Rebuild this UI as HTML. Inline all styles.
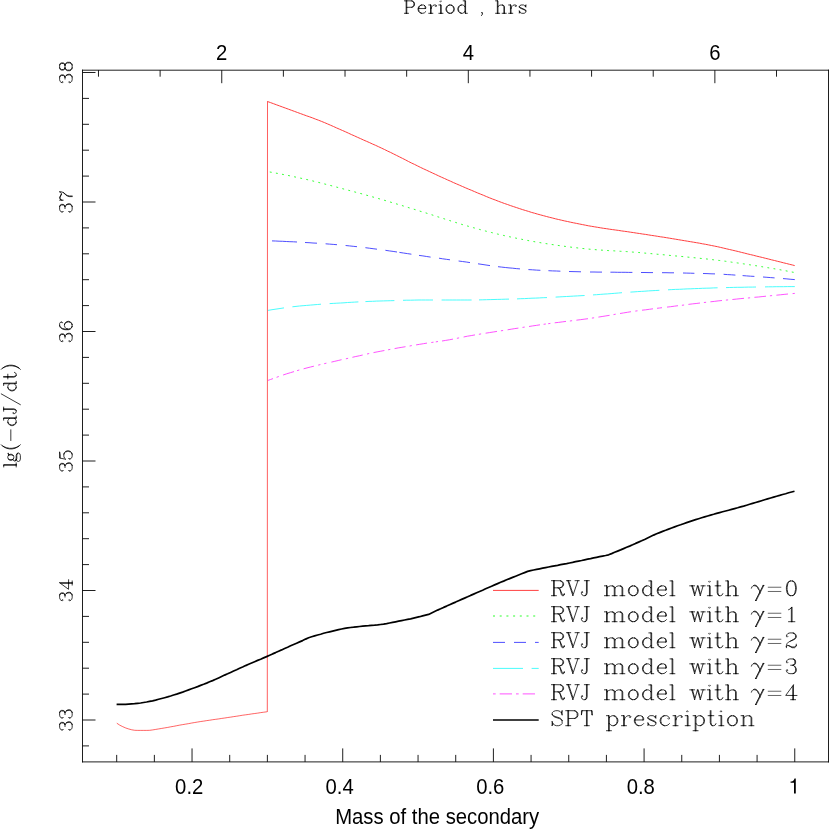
<!DOCTYPE html><html><head><meta charset="utf-8"><title>plot</title><style>html,body{margin:0;padding:0;background:#fff}svg{display:block}text{font-family:"Liberation Sans",sans-serif;fill:#000}</style></head><body>
<svg width="830" height="829" viewBox="0 0 830 829" style="will-change:transform">
<rect width="830" height="829" fill="#fff"/>
<defs><path id="g0" d="M8.7 -22.4L7 -20.1L5 -16L4 -11.1L4 -6.9L5 -1.9L7 1.9L8.6 4.3M11 7L8.8 4.6M8.7 -22.4L7 -18.9L6 -16.1L5 -11.1L5 -6.9L6 -2.1L7 1.1L8.6 4.2M8.8 -22.8L11 -25"/><path id="g1" d="M3 -25L5.2 -22.8M3 7L5.2 4.6M5.3 -22.4L7 -18.9L8 -16.1L9 -11.1L9 -6.9L8.1 -2.1L7 1.1L5.4 4.2M5.3 -22.4L7 -20.1L9 -16L10 -11.1L10 -6.9L9 -1.9L7 1.9L5.5 4.3"/><path id="g2" d="M4 4L5 3L6 1.1L6 -1L5 -2L4 -1L5 0"/><path id="g3" d="M22 -9L4 -9"/><path id="g4" d="M2 7L20 -25"/><path id="g5" d="M11.7 -0.3L12.9 -0.9L14.1 -2L15 -4L16 -8.9L16 -12.1L15 -17L14 -19L12.9 -20.1L11.7 -20.7M8.4 -0.2L6 -1L4 -3.9L3 -8.9L3 -12.1L4 -17L6 -20L8.4 -20.8M8.8 -20.9L11.4 -20.9M8.5 -0.2L7 -1L6 -2L5 -4L4 -8.9L4 -12.1L5 -17L6 -19L7 -20L8.5 -20.8M11.7 -0.2L14 -1L15.9 -3.9L17 -8.9L17 -12.1L16 -17L14 -20L11.7 -20.8M11.4 -0.1L8.8 -0.1"/><path id="g6" d="M11.1 0L15 0M9.9 -19.9L8 -17.9L6 -17M10.1 0L10.9 0M11 -0.1L11 -20.9L10 -20M10 -19.9L10 -0.1M6 0L9.9 0"/><path id="g7" d="M3 0L3 -2M3 -2.1L3 -3L4 -6L6 -8L8.7 -9.3M16.9 -2.9L15.9 -1.9L14.1 -1L10.9 -1L6.5 -2.8M3 -2L4 -3L6.2 -2.9M6.5 -2.8L11 0L15 0L16.1 -1.1L16.9 -2.8M16.9 -3L17 -5M9.2 -9.6L14.9 -12.9L16 -14.9L16 -17L15 -19L13.9 -20.1L12.7 -20.7M9.2 -9.5L13.1 -11.1L15.9 -12.9L17 -14.9L17 -17L16 -19L15 -20L12.7 -20.8M12.4 -20.9L8 -21L5.1 -20.1L4 -19L3 -17L3 -16L4 -15L5 -16L4 -17"/><path id="g8" d="M12.7 -0.3L13.9 -0.9L15.1 -2L16 -4L16 -7L15.1 -9.8M15.1 -9.9L13.9 -11.1L12.1 -12M12.7 -12.3L14.1 -13.1L15 -14.9L15 -18L14 -20L12.7 -20.7M15.1 -9.9L16 -9L17 -7L17 -4L16.1 -2L15 -1L12.7 -0.2M12.4 -0.1L8 0L5.1 -0.9L4 -2L3 -4L3 -5L4 -6L5 -5L4 -4M12.4 -12.2L12.1 -12M9 -12L12.1 -12M12.7 -12.2L15 -13L16 -14.9L16 -18L15.1 -19.9L12.7 -20.8M12.4 -20.9L8 -21L5.1 -20.1L4 -19L3 -17L3 -16L4 -15L5 -16L4 -17"/><path id="g9" d="M12 -6L12 -19M12 -6L12 -0.1M13.1 0L16 0M12.1 -6L12.9 -6M18 -6L13.1 -6M11.9 0L9 0M13 -6L13 -20.9M13 -6L13 -0.1M12.9 -20.9L2 -6.1L11.9 -6M12.1 0L12.9 0"/><path id="g10" d="M11.7 -0.3L12.9 -0.9L15 -3L16 -6L16 -8.1L15 -11L12.9 -13.1L11.7 -13.7M3 -11.2L5 -21L14.6 -21M14.7 -20.9L10.1 -20L5 -20M3.1 -11.1L5 -13L8 -14L11.4 -13.8M11.7 -0.2L14 -1L16 -3L17 -6L17 -8.1L16 -11L14 -13L11.7 -13.8M11.4 -0.1L8 0L5 -1L4 -2L3 -4L3 -5L4 -6L5 -5L4 -4"/><path id="g11" d="M11.7 -0.3L12.9 -0.9L15 -3L16 -6L16 -7L15 -10L12.9 -12.1L11.7 -12.7M8.4 -0.2L6 -1L4 -3.1L3 -6L3 -12.1L4 -16L5 -18L7 -20L9.4 -20.8M8.5 -0.2L7 -1L5 -3L4 -6L4 -7.2M11.7 -0.2L14 -1L16 -3L17 -6L17 -7L16 -10L14 -12L11.7 -12.8M11.4 -0.1L8.8 -0.1M4 -7.2L4 -12.1L5 -16L6 -18L8 -20L9.5 -20.8M9.8 -20.9L13.1 -21L14.9 -20.1L16 -18L16 -17L15 -16L14 -17L15 -18M4 -7.2L5 -10L7 -12L9.9 -13L11.4 -12.8"/><path id="g12" d="M3 -17.1L3 -15M3 -17.1L4 -19.1M12.5 -18.2L8.1 -20L6 -20L4.2 -19.1M16.9 -20.9L16.1 -19.1L15 -18L12.8 -18.1M10 0L10 -5L10.9 -7.9L12.1 -10.2L15.5 -14.4M17 -20.8L17 -17.9L15.7 -14.7M12.6 -18.2L8 -21L6 -21L4.2 -19.1M9 0L9 -5L9.9 -7.9L11 -10L15.4 -14.4M3 -21L3 -17.1"/><path id="g13" d="M7.5 -11.8L5 -11L4 -10L3 -8L3 -4L4 -2L5 -1L7.5 -0.2M12.4 -11.8L12.1 -12M12.4 -0.1L7.8 -0.1M12.4 -12.2L12.1 -12M7.5 -12.2L5 -13L4 -14.9L4 -18L5 -19.9L7.5 -20.8M12.7 -11.7L13.9 -11.1L15 -10L16 -8L16 -4L15.1 -2L13.9 -0.9L12.7 -0.3M7.5 -11.8L6 -11L5 -10L4 -8L4 -4L5 -2L6 -1L7.5 -0.2M12.7 -0.2L15 -1L16.1 -2L17 -4L17 -8L16 -10L15 -11L12.7 -11.8M7.5 -12.2L6 -13.1L5 -14.9L5 -18L6 -19.9L7.5 -20.8M12.4 -20.9L7.8 -20.9M12.7 -12.3L14.1 -13.1L15 -14.9L15 -18L14 -20L12.7 -20.7M8 -12L12.1 -12M12.7 -12.2L15 -13L16 -14.9L16 -18L15.1 -19.9L12.7 -20.8"/><path id="g14" d="M22 -6L4 -6M22 -12L4 -12"/><path id="g15" d="M13 -21L10.1 -21M9.9 -21L9.1 -21M3 -4L4 -5L3 -6L2 -5L2 -3L3 -1L5 0L7 -0.1M10 -20.9L10 -4L9 -1L7.2 -0.1M8.9 -21L6 -21M7.2 -0.1L8.1 -1.1L9 -4L9 -20.9"/><path id="g16" d="M6 0L9 0M5 -21L2 -21M5 0L2 0M14.7 -10.3L15.9 -10.9L17.1 -12.1L18 -13.9L18 -17L17 -19L15.9 -20.1L14.7 -20.7M5 -21L6 -21M5 -0.1L5 -20.9M14.7 -10.2L17 -11L18.1 -12.1L19 -13.9L19 -17L18 -19L17 -20L14.7 -20.8M14.4 -10.2L6 -10M5 0L6 0M6 -10.1L6 -20.9M14.4 -20.9L6 -21M6 -9.9L6 -0.1"/><path id="g17" d="M13.2 -9.8L14.2 -8.7L17 -2L18 -1L19 -1L19.9 -1.9M6 0L9 0M6 -11L11.1 -11M5 -21L2 -21M11.2 -10.9L13.1 -9.9M5 0L2 0M14.7 -11.3L15.9 -11.9L17.1 -13.1L18 -14.9L18 -17L17 -19L15.9 -20.1L14.7 -20.7M11.2 -11L14.4 -11.2M5 -21L6 -21M5 -0.1L5 -20.9M14.7 -11.2L17 -12L18.1 -13.1L19 -14.9L19 -17L18 -19L17 -20L14.7 -20.8M5 0L6 0M19.9 -1.9L20 -3M19.9 -1.8L19 0L17 0L16 -1L14.1 -7.9L13.1 -9.8M6 -11.1L6 -20.9M14.4 -20.9L6 -21M6 -10.9L6 -0.1"/><path id="g18" d="M16.9 -7.2L16 -9L14.9 -10.1L13.1 -11L7.1 -12.9L5 -14L3.1 -15.8M16.8 -7.2L14.9 -9.1L13.1 -10L7.1 -11.9L5 -13L4 -14.1L3.1 -15.8M15.9 -18.1L13.9 -20.1L11.1 -21L8 -21L5 -20L3 -18L3 -15.9M4 -3L3 -0.2M3 -5.8L3 -0.2M16 -18L16.9 -15.2M16.9 -7.1L17 -3L15 -1L12.1 0L8.9 0L6.1 -0.9L4 -3M3 -5.8L4 -3M16.9 -20.8L16 -18.1M16.9 -20.8L16.9 -15.2"/><path id="g19" d="M8.9 0L6 0M9.1 -21L9.9 -21M9 -20.9L9 -0.1M3 -21L2 -20.9L2 -15.4M2 -15.4L3 -20.9M16.1 -21L17 -20.9L16.9 -15.4M16 -20.9L16.9 -15.4M9.1 0L9.9 0M13 0L10.1 0M3 -21L8.9 -21M17 -15L16.9 -15.4M10 -20.9L10 -0.1M10.1 -21L15.9 -21"/><path id="g20" d="M3 -21L1 -21M13 -21L16.9 -21M10 -3L4 -20.9M3 -20.9L10 -0.1M3 -21L4 -21M7 -21L4 -21M10 -0.1L17 -20.9M17.1 -21L19 -21"/><path id="g21" d="M16 -3L13.9 -0.9L11.1 0L8.8 -0.1M8.4 -0.2L6 -1L4 -3L3 -6L3 -8.1L4 -11L6 -13L8.4 -13.8M8.5 -0.2L7 -1L5 -3L4 -6L4 -8.1L5 -11L7 -13L8.5 -13.8M15 -11L14 -10L15 -9L16 -10L16 -11L13.9 -13.1L12.1 -14L8.8 -13.9"/><path id="g22" d="M14.9 -11.1L12.9 -13.1L11.1 -14L8.8 -13.9M8.4 -0.2L6 -1L4 -3L3 -6L3 -8.1L4 -11L6 -13L8.4 -13.8M15 -11.1L15 -20.9M15.9 0L15 -0.1L15 -2.9M19 0L16.1 0M8.5 -0.2L7 -1L5 -3L4 -6L4 -8.1L5 -11L7 -13L8.5 -13.8M8.8 -0.1L11.1 0L12.9 -0.9L14.9 -3M16 -0.1L16 -20.9L15.1 -21M15 -11L15 -3M14.9 -21L12 -21"/><path id="g23" d="M16 -3L13.9 -0.9L11.1 0L8.8 -0.1M8.4 -0.2L6 -1L4 -3L3 -6L3 -8.1L4 -11L6 -13L8.4 -13.8M14.1 -12.9L12.1 -14L8.8 -13.9M8.5 -0.2L7 -1L5 -3L4 -6L4 -8M14.9 -8L4 -8M15 -8.1L15 -11L14.1 -12.8M4 -8.1L5 -11L7 -13L8.5 -13.8M14.2 -12.8L15 -12L16 -10L16 -8.1L15.1 -8"/><path id="g24" d="M15.9 2.9L16 4L14.9 6L12.1 7L6 7L3 6L2 4L2 3L3 1.1L4.9 0.3M12.1 -5.2L10.1 -4L8 -4L5.9 -5.1M5.8 -12.8L5 -12L4 -10L4 -8L5 -6M5.1 0.3L6 0M5.1 0.3L7 1L12.1 1L14.9 1.9L15.8 2.8M12.1 -12.9L10.1 -14L8 -14L6 -12.9M5 -6L4 -5L3 -3L3 -1.9M5 -6L5.8 -5.2M5.9 -12.8L5 -11L5 -7L5.8 -5.2M14.1 -13L13 -12M13 -12L12.2 -12.8M13 -12L14 -10L14 -8L13.1 -6L12.2 -5.2M4.9 0.3L4 -0.1L3.1 -1.8M14.2 -13.1L15.9 -13.9L15.9 -13L14.2 -13M12.2 -5.2L13 -7L13 -11L12.1 -12.8M15.8 2.8L14.9 0.9L12.1 0L7 0L4.1 -0.9L3.1 -1.9"/><path id="g25" d="M6 0L9 0M5 -21L2 -21M6 -11.1L6 -20.9L5 -21M15.9 0L13 0M5 0L2 0M16 -0.1L16 -11L15 -13L13.7 -13.7M6 -11L6 -0.1M6 -11.1L8.1 -13.1L10.9 -14L13.4 -13.8M5 -0.1L5 -20.9M16.1 0L16.9 0M20 0L17.1 0M5 0L6 0M17 -0.1L17 -11L15.9 -13.1L13.7 -13.8"/><path id="g26" d="M6 0L9 0M2 0L5 0M5 -14L2 -14M5 0L6 0M6 -0.1L6 -13.9L5 -14M5 -0.1L5 -13.9M5.3 -20.7L5 -21L4 -20L5 -19L6 -20"/><path id="g27" d="M6 0L9 0M5 -21L2 -21M6 0L5 0M2 0L5 0M6 -0.1L6 -20.9L5 -21M5 -20.9L5 -0.1"/><path id="g28" d="M6 0L9 0M26.9 0L24 0M15.9 0L13 0M27 -0.1L27 -11L26 -13L24.6 -13.7M6 -11.1L6 -13.9L5 -14M17 -11L15.9 -13.1L13.7 -13.8M17 -11L19.1 -13.1L21.9 -14L24.4 -13.8M17 -11L17 -0.1M5 0L2 0M16 -0.1L16 -11L15 -13L13.7 -13.7M6 -11L6 -0.1M5 -14L2 -14M6 -11.1L8.1 -13.1L10.9 -14L13.4 -13.8M27.1 0L27.9 0M5 -0.1L5 -13.9M31 0L28.1 0M16.1 0L16.9 0M20 0L17.1 0M5 0L6 0M28 -0.1L28 -11L26.9 -13.1L24.7 -13.8"/><path id="g29" d="M6 0L9 0M6 -11.1L6 -13.9L5 -14M15.9 0L13 0M5 0L2 0M16 -0.1L16 -11L15 -13L13.7 -13.7M6 -11L6 -0.1M5 -14L2 -14M6 -11.1L8.1 -13.1L10.9 -14L13.4 -13.8M5 -0.1L5 -13.9M16.1 0L16.9 0M20 0L17.1 0M5 0L6 0M17 -0.1L17 -11L15.9 -13.1L13.7 -13.8"/><path id="g30" d="M11.7 -0.3L12.9 -0.9L15 -3L16 -6L16 -8.1L15 -11L12.9 -13.1L11.7 -13.7M8.4 -0.2L6 -1L4 -3L3 -6L3 -8.1L4 -11L6 -13L8.4 -13.8M8.5 -0.2L7 -1L5 -3L4 -6L4 -8.1L5 -11L7 -13L8.5 -13.8M11.7 -0.2L14 -1L16 -3L17 -6L17 -8.1L16 -11L14 -13L11.7 -13.8M8.8 -0.1L11.4 -0.1M8.8 -13.9L11.4 -13.8"/><path id="g31" d="M2 7L5 7M5 7L6 7M6 7L6 -2.9M9 7L6 7M6 -11.1L6 -13.9L5 -14M12.7 -13.7L13.9 -13.1L16 -11L17 -8.1L17 -6L16 -3L13.9 -0.9L12.7 -0.3M6 -11L6 -3M5 -14L2 -14M6 -11.1L8 -13L10 -14L12.4 -13.8M12.7 -13.8L15 -13L17 -11L18 -8.1L18 -6L17 -3L15 -1L12.7 -0.2M12.4 -0.1L10 0L8 -1L6 -3M5 7L5 -13.9"/><path id="g32" d="M6 0L9 0M14 -13L13 -12L14 -11L15 -12L15 -13L14 -14L11 -14L9 -13L7 -11L6 -8.2M5 0L2 0M5 -14L2 -14M6 -8.2L6 -13.9L5 -14M6 -8.2L6 -0.1M5 -0.1L5 -13.9M5 0L6 0"/><path id="g33" d="M3 -11L3 -12L4 -13L6 -14L10.1 -14L11.9 -13.1L13 -12M3 -10.9L3 -10L4 -9L12.9 -5L13.9 -4M14 -4.1L14 -5L12.9 -6L4 -10L3 -10.9M14 -4L14 -2L12.9 -0.9L11.1 0L7 0L5 -1L4 -1.9M13.9 -13.8L13 -12M4 -1.9L3 -0.1L3 -3.8M14 -13.8L14 -10.2L13 -12M4 -2L3 -3.9"/><path id="g34" d="M6 -14.1L6 -21M6 -14L10 -14M6 -13.9L6 -4L7 -1.1L7.8 -0.2M7.8 -0.1L6 -1.1L5 -4L5 -13.9M5 -14L2 -14M5 -14.1L5 -21M5 -14L6 -14M13 -3L11.9 -0.9L10.1 0L7.9 -0.1"/><path id="g35" d="M23 -14L20.1 -14M19.9 -14L17 -14M16 -3L13 -14M4 -13.9L8 -0.1M4 -14L5 -14M1 -14L4 -14M16 -0.1L12 -13.9M16 -0.1L20 -13.9M8 -14L5 -14M8 -3L5 -13.9M8 -0.1L12 -13.9"/><path id="g37" d="M1 -10.6L1.8 -12.6L3.4 -14.2L5.6 -15L7.6 -14.6L9.6 -13L11.2 -10.4L12.6 -6.6L13.2 -3.4M4.4 -14L6 -14.2L7.6 -13.6L9.6 -11.6L11 -9M17.6 -14.6L6.8 6.8M18.6 -14.6L7.8 6.8M17.6 -14.6L18.6 -14.6M6.8 6.8L7.8 6.8"/></defs>
<g stroke="#000" stroke-width="0.88" fill="none">
<path d="M82.5 69.7V762.4M828.5 69.7V762.4M82.0 70.2H829.0M82.0 761.9H829.0"/>
<path d="M98.47 70.2v6.5M160.11 70.2v6.5M221.75 70.2v13M283.39 70.2v6.5M345.03 70.2v6.5M406.67 70.2v6.5M468.31 70.2v13M529.95 70.2v6.5M591.59 70.2v6.5M653.23 70.2v6.5M714.87 70.2v13M776.51 70.2v6.5M116.70 761.9v-7M154.37 761.9v-7M192.04 761.9v-13.5M229.71 761.9v-7M267.38 761.9v-7M305.05 761.9v-7M342.72 761.9v-13.5M380.39 761.9v-7M418.06 761.9v-7M455.73 761.9v-7M493.40 761.9v-13.5M531.07 761.9v-7M568.74 761.9v-7M606.41 761.9v-7M644.08 761.9v-13.5M681.75 761.9v-7M719.42 761.9v-7M757.09 761.9v-7M794.76 761.9v-13.5M82.5 72.50h13M82.5 98.40h6.5M82.5 124.30h6.5M82.5 150.20h6.5M82.5 176.10h6.5M82.5 202.00h13M82.5 227.90h6.5M82.5 253.80h6.5M82.5 279.70h6.5M82.5 305.60h6.5M82.5 331.50h13M82.5 357.40h6.5M82.5 383.30h6.5M82.5 409.20h6.5M82.5 435.10h6.5M82.5 461.00h13M82.5 486.90h6.5M82.5 512.80h6.5M82.5 538.70h6.5M82.5 564.60h6.5M82.5 590.50h13M82.5 616.40h6.5M82.5 642.30h6.5M82.5 668.20h6.5M82.5 694.10h6.5M82.5 720.00h13M82.5 745.90h6.5"/>
</g>
<g fill="none" stroke-linejoin="round">
<path d="M116.8 723.2L119.8 725.2L122.8 726.7L125.8 728.0L128.8 729.0L131.8 729.8L134.8 730.3L137.8 730.4L140.8 730.4L143.8 730.4L146.8 730.4L149.8 730.3L152.8 729.9L155.8 729.4L158.8 728.9L161.8 728.4L164.8 727.9L167.8 727.4L170.8 726.8L173.8 726.3L176.8 725.7L179.8 725.1L182.8 724.6L185.8 724.1L188.8 723.6L191.8 723.0L194.8 722.5L197.8 722.0L200.8 721.5L203.8 721.1L206.8 720.6L209.8 720.2L212.8 719.7L215.8 719.3L218.8 718.9L221.8 718.4L224.8 718.0L227.8 717.5L230.8 717.1L233.8 716.6L236.8 716.2L239.8 715.7L242.8 715.2L245.8 714.8L248.8 714.4L251.8 713.9L254.8 713.5L257.8 713.1L260.8 712.6L263.8 712.2L266.8 711.8L267.3 711.7" stroke="#ff2a2a" stroke-width="0.72"/>
<path d="M267.3 711.9L267.5 101.3" stroke="#ff2a2a" stroke-width="0.75"/>
<path d="M267.5 101.5L270.5 102.6L273.5 103.7L276.5 104.8L279.5 105.9L282.5 107.0L285.5 108.1L288.5 109.2L291.5 110.3L294.5 111.4L297.5 112.5L300.5 113.6L303.5 114.7L306.5 115.8L309.5 116.8L312.5 117.9L315.5 119.1L318.5 120.2L321.5 121.4L324.5 122.6L327.5 123.9L330.5 125.2L333.5 126.5L336.5 127.9L339.5 129.2L342.5 130.5L345.5 131.8L348.5 133.2L351.5 134.6L354.5 135.9L357.5 137.3L360.5 138.6L363.5 140.0L366.5 141.3L369.5 142.6L372.5 144.0L375.5 145.3L378.5 146.7L381.5 148.1L384.5 149.5L387.5 151.0L390.5 152.4L393.5 153.9L396.5 155.4L399.5 156.9L402.5 158.4L405.5 159.9L408.5 161.5L411.5 163.0L414.5 164.4L417.5 165.9L420.5 167.4L423.5 168.8L426.5 170.2L429.5 171.6L432.5 173.0L435.5 174.4L438.5 175.8L441.5 177.2L444.5 178.5L447.5 179.9L450.5 181.2L453.5 182.6L456.5 183.9L459.5 185.2L462.5 186.5L465.5 187.8L468.5 189.1L471.5 190.3L474.5 191.6L477.5 192.9L480.5 194.1L483.5 195.3L486.5 196.6L489.5 197.8L492.5 199.0L495.5 200.1L498.5 201.3L501.5 202.4L504.5 203.5L507.5 204.5L510.5 205.6L513.5 206.6L516.5 207.6L519.5 208.6L522.5 209.6L525.5 210.5L528.5 211.4L531.5 212.4L534.5 213.2L537.5 214.1L540.5 214.9L543.5 215.7L546.5 216.5L549.5 217.3L552.5 218.0L555.5 218.8L558.5 219.5L561.5 220.2L564.5 220.9L567.5 221.5L570.5 222.2L573.5 222.8L576.5 223.4L579.5 224.0L582.5 224.6L585.5 225.2L588.5 225.8L591.5 226.3L594.5 226.8L597.5 227.3L600.5 227.8L603.5 228.3L606.5 228.7L609.5 229.2L612.5 229.6L615.5 230.0L618.5 230.4L621.5 230.9L624.5 231.3L627.5 231.7L630.5 232.2L633.5 232.6L636.5 233.1L639.5 233.5L642.5 234.0L645.5 234.4L648.5 234.9L651.5 235.4L654.5 235.8L657.5 236.3L660.5 236.8L663.5 237.2L666.5 237.7L669.5 238.2L672.5 238.7L675.5 239.2L678.5 239.7L681.5 240.2L684.5 240.7L687.5 241.2L690.5 241.7L693.5 242.2L696.5 242.7L699.5 243.2L702.5 243.8L705.5 244.3L708.5 244.9L711.5 245.5L714.5 246.1L717.5 246.7L720.5 247.4L723.5 248.1L726.5 248.8L729.5 249.5L732.5 250.2L735.5 250.9L738.5 251.6L741.5 252.4L744.5 253.1L747.5 253.9L750.5 254.6L753.5 255.3L756.5 256.1L759.5 256.8L762.5 257.5L765.5 258.3L768.5 259.0L771.5 259.8L774.5 260.5L777.5 261.3L780.5 262.0L783.5 262.8L786.5 263.5L789.5 264.3L792.5 265.0L794.7 265.6" stroke="#ff2a2a" stroke-width="0.9"/>
<path d="M269.8 172.0L272.8 172.5L275.8 173.1L278.8 173.6L281.8 174.2L284.8 174.8L287.8 175.4L290.8 176.0L293.8 176.7L296.8 177.3L299.8 178.0L302.8 178.6L305.8 179.3L308.8 180.0L311.8 180.7L314.8 181.5L317.8 182.2L320.8 183.0L323.8 183.8L326.8 184.5L329.8 185.3L332.8 186.1L335.8 186.9L338.8 187.7L341.8 188.5L344.8 189.3L347.8 190.1L350.8 190.9L353.8 191.7L356.8 192.5L359.8 193.3L362.8 194.1L365.8 195.0L368.8 195.8L371.8 196.7L374.8 197.5L377.8 198.4L380.8 199.2L383.8 200.1L386.8 201.0L389.8 201.9L392.8 202.8L395.8 203.7L398.8 204.6L401.8 205.5L404.8 206.4L407.8 207.4L410.8 208.3L413.8 209.2L416.8 210.1L419.8 211.1L422.8 212.0L425.8 212.9L428.8 213.9L431.8 214.8L434.8 215.8L437.8 216.8L440.8 217.7L443.8 218.7L446.8 219.7L449.8 220.6L452.8 221.6L455.8 222.5L458.8 223.5L461.8 224.4L464.8 225.3L467.8 226.1L470.8 227.0L473.8 227.8L476.8 228.6L479.8 229.5L482.8 230.3L485.8 231.1L488.8 231.9L491.8 232.6L494.8 233.4L497.8 234.1L500.8 234.8L503.8 235.5L506.8 236.2L509.8 236.8L512.8 237.5L515.8 238.1L518.8 238.7L521.8 239.3L524.8 239.9L527.8 240.5L530.8 241.0L533.8 241.6L536.8 242.1L539.8 242.6L542.8 243.1L545.8 243.6L548.8 244.0L551.8 244.5L554.8 244.9L557.8 245.4L560.8 245.8L563.8 246.2L566.8 246.6L569.8 247.0L572.8 247.4L575.8 247.7L578.8 248.1L581.8 248.4L584.8 248.7L587.8 249.0L590.8 249.3L593.8 249.5L596.8 249.8L599.8 250.0L602.8 250.2L605.8 250.4L608.8 250.6L611.8 250.7L614.8 250.9L617.8 251.1L620.8 251.3L623.8 251.4L626.8 251.6L629.8 251.8L632.8 252.1L635.8 252.3L638.8 252.5L641.8 252.8L644.8 253.1L647.8 253.3L650.8 253.6L653.8 253.9L656.8 254.2L659.8 254.4L662.8 254.7L665.8 255.0L668.8 255.3L671.8 255.6L674.8 255.9L677.8 256.1L680.8 256.4L683.8 256.7L686.8 257.0L689.8 257.3L692.8 257.6L695.8 257.9L698.8 258.2L701.8 258.5L704.8 258.8L707.8 259.1L710.8 259.5L713.8 259.8L716.8 260.2L719.8 260.5L722.8 260.9L725.8 261.3L728.8 261.7L731.8 262.2L734.8 262.6L737.8 263.0L740.8 263.4L743.8 263.9L746.8 264.3L749.8 264.8L752.8 265.3L755.8 265.7L758.8 266.2L761.8 266.7L764.8 267.2L767.8 267.7L770.8 268.2L773.8 268.7L776.8 269.2L779.8 269.7L782.8 270.3L785.8 270.8L788.8 271.4L791.8 272.0L794.7 272.5" stroke="#2cff2c" stroke-width="0.95" stroke-dasharray="1.9 4.3"/>
<path d="M272.0 240.9L275.6 241.0L279.1 241.2L282.7 241.3L286.3 241.5L289.9 241.7L293.4 241.8L297.0 242.0M305.0 242.5L309.0 242.7L313.0 243.0L317.0 243.2M325.6 243.8L329.4 244.1L333.2 244.4L337.0 244.7M345.6 245.5L349.4 245.9L353.2 246.3L357.0 246.7M365.4 247.7L369.3 248.2L373.1 248.7L377.0 249.2M385.4 250.3L389.3 250.9L393.1 251.4L397.0 252.0M399.4 252.4L403.4 253.0L407.4 253.6L411.4 254.2M419.0 255.4L422.9 255.9L426.7 256.5L430.6 257.1M439.0 258.2L442.7 258.8L446.3 259.3L450.0 259.8M458.6 261.0L462.4 261.5L466.2 262.0L470.0 262.6M478.0 263.8L482.0 264.4L486.0 265.0L490.0 265.6M498.0 266.7L501.7 267.1L505.3 267.5L509.0 267.9L512.7 268.2L516.3 268.6L520.0 268.9M528.4 269.6L532.4 269.8L536.4 270.1L540.4 270.3M548.4 270.7L552.4 270.9L556.4 271.0L560.4 271.2M569.0 271.5L573.0 271.6L577.0 271.7L581.0 271.8M590.0 272.0L594.0 272.0L598.0 272.1L602.0 272.1M610.4 272.2L614.1 272.2L617.7 272.3L621.4 272.3L625.1 272.3L628.7 272.4L632.4 272.4M641.0 272.5L645.0 272.5L649.0 272.6L653.0 272.6M662.0 272.7L666.0 272.7L670.0 272.8L674.0 272.8M683.0 273.0L686.8 273.1L690.6 273.2L694.4 273.3M703.0 273.5L707.0 273.6L711.0 273.8L715.0 273.9M723.6 274.3L727.5 274.6L731.5 274.8L735.4 275.1M742.6 275.6L746.5 275.9L750.5 276.2L754.4 276.4M763.0 277.0L766.9 277.3L770.7 277.6L774.6 277.9M783.0 278.6L786.9 278.9L790.9 279.3L794.8 279.6" stroke="#3a3aff" stroke-width="0.9"/>
<path d="M268.0 310.4L272.0 309.7L276.0 309.1L280.0 308.5L284.0 307.9M292.4 306.8L296.0 306.4L299.5 306.0L303.1 305.7L306.7 305.4L310.3 305.1L313.9 304.8L317.4 304.5L321.0 304.2M329.6 303.6L333.2 303.4L336.8 303.2L340.4 303.0L344.0 302.8L347.6 302.5L351.2 302.3L354.8 302.1L358.4 301.9M365.4 301.6L369.0 301.4L372.6 301.3L376.3 301.1L379.9 301.0L383.5 300.9L387.1 300.8L390.8 300.7L394.4 300.6M403.0 300.3L406.8 300.2L410.5 300.2L414.2 300.1L418.0 300.0L421.8 300.0L425.5 300.0L429.2 300.0L433.0 300.0M441.6 300.0L445.4 300.0L449.1 300.0L452.9 300.0L456.6 300.0L460.4 300.0L464.1 300.0L467.9 300.0L471.6 300.0M479.0 299.9L482.8 299.8L486.5 299.7L490.2 299.6L494.0 299.5L497.8 299.4L501.5 299.3L505.2 299.2L509.0 299.1M517.0 298.9L520.8 298.7L524.5 298.6L528.2 298.4L532.0 298.2L535.8 298.1L539.5 297.9L543.2 297.7L547.0 297.6M555.6 297.1L559.2 296.9L562.9 296.7L566.5 296.5L570.1 296.3L573.7 296.1L577.4 295.9L581.0 295.7L584.6 295.5M593.0 294.9L596.6 294.7L600.2 294.4L603.9 294.1L607.5 293.9L611.1 293.6L614.8 293.3L618.4 293.0L622.0 292.7M630.4 292.1L634.0 291.9L637.6 291.6L641.3 291.4L644.9 291.2L648.5 290.9L652.1 290.7L655.8 290.5L659.4 290.3M668.0 289.8L671.8 289.6L675.6 289.4L679.4 289.3L683.3 289.1L687.1 288.9L690.9 288.8L694.7 288.6L698.5 288.5L702.3 288.3L706.2 288.2L710.0 288.1L713.8 287.9L717.6 287.8M726.0 287.6L729.8 287.5L733.5 287.4L737.2 287.3L741.0 287.3L744.8 287.2L748.5 287.1L752.2 287.1L756.0 287.0M765.0 286.9L768.7 286.8L772.5 286.8L776.2 286.7L779.9 286.7L783.6 286.7L787.3 286.6L791.1 286.6L794.8 286.6" stroke="#40fcfc" stroke-width="0.95"/>
<path d="M268.0 380.4L270.5 379.5L273.0 378.6M276.6 377.3L278.8 376.5M283.1 375.0L286.7 373.8L290.4 372.7L294.0 371.6M297.1 370.6L299.3 370.0M303.6 368.8L307.0 367.9L310.5 367.0L313.9 366.2M318.2 365.1L320.4 364.6M324.2 363.7L326.4 363.2M331.4 362.1L334.8 361.3L338.2 360.5L341.6 359.7M345.9 358.8L348.1 358.3M352.4 357.3L355.8 356.5L359.3 355.8L362.7 355.0M367.0 354.0L369.2 353.5M373.5 352.6L377.1 351.9L380.8 351.2L384.4 350.5M388.1 349.8L390.3 349.4M394.6 348.6L398.2 347.9L401.9 347.3L405.5 346.7M409.6 346.0L411.8 345.6M416.1 344.9L419.7 344.3L423.4 343.7L427.0 343.1M431.3 342.5L433.5 342.2M435.8 341.9L438.0 341.5M442.0 341.0L445.7 340.4L449.3 339.8L453.0 339.1M456.9 338.3L459.1 337.9M463.6 337.0L467.4 336.2L471.2 335.6L475.0 334.9M478.9 334.3L481.1 333.9M485.6 333.2L489.4 332.6L493.2 332.0L497.0 331.4M500.9 330.8L503.1 330.5M507.6 329.8L511.2 329.2L514.8 328.6L518.4 328.1M522.5 327.4L524.7 327.1M529.0 326.5L532.7 325.9L536.3 325.4L540.0 324.8M543.6 324.3L545.8 324.0M548.2 323.7L550.4 323.4M554.7 322.8L558.5 322.4L562.2 321.9L566.0 321.4M569.9 321.0L572.1 320.7M576.4 320.2L580.3 319.7L584.1 319.2L588.0 318.7M591.9 318.1L594.1 317.8M598.4 317.1L602.1 316.5L605.9 315.9L609.6 315.3M613.5 314.6L615.7 314.2M620.0 313.5L623.7 312.9L627.3 312.3L631.0 311.7M635.3 311.1L637.5 310.8M642.0 310.2L645.7 309.8L649.3 309.3L653.0 308.8M657.0 308.3L659.5 308.0L662.0 307.7M667.0 307.1L670.7 306.7L674.3 306.2L678.0 305.7M681.9 305.3L684.1 305.0M688.4 304.4L692.3 303.9L696.1 303.5L700.0 303.0M703.9 302.5L706.1 302.3M710.4 301.8L714.3 301.4L718.1 300.9L722.0 300.5M725.9 300.1L728.1 299.9M732.4 299.5L736.3 299.1L740.1 298.7L744.0 298.3M747.9 298.0L750.1 297.8M754.4 297.3L758.3 297.0L762.1 296.6L766.0 296.2M769.9 295.8L772.1 295.6M776.4 295.2L780.3 294.8L784.1 294.4L788.0 294.0M792.6 293.6L794.8 293.4" stroke="#ff40ff" stroke-width="0.9"/>
<path d="M116.6 704.3L119.6 704.4L122.6 704.4L125.6 704.3L128.6 704.1L131.6 703.9L134.6 703.7L137.6 703.3L140.6 703.0L143.6 702.5L146.6 702.0L149.6 701.4L152.6 700.8L155.6 700.1L158.6 699.3L161.6 698.5L164.6 697.7L167.6 696.9L170.6 696.0L173.6 695.0L176.6 694.1L179.6 693.1L182.6 692.1L185.6 691.0L188.6 689.9L191.6 688.8L194.6 687.7L197.6 686.6L200.6 685.4L203.6 684.3L206.6 683.1L209.6 681.8L212.6 680.6L215.6 679.3L218.6 677.9L221.6 676.5L224.6 675.1L227.6 673.8L230.6 672.4L233.6 671.0L236.6 669.7L239.6 668.3L242.6 667.0L245.6 665.6L248.6 664.3L251.6 663.0L254.6 661.7L257.6 660.4L260.6 659.2L263.6 657.9L266.6 656.6L269.6 655.3L272.6 653.9L275.6 652.6L278.6 651.2L281.6 649.9L284.6 648.5L287.6 647.2L290.6 645.8L293.6 644.5L296.6 643.2L299.6 641.9L302.6 640.6L305.6 639.1L308.6 637.8L311.6 636.8L314.6 635.9L317.6 635.0L320.6 634.2L323.6 633.3L326.6 632.5L329.6 631.8L332.6 631.1L335.6 630.4L338.6 629.7L341.6 629.0L344.6 628.3L347.6 627.9L350.6 627.5L353.6 627.2L356.6 626.8L359.6 626.5L362.6 626.2L365.6 625.9L368.6 625.7L371.6 625.4L374.6 625.2L377.6 624.9L380.6 624.5L383.6 624.1L386.6 623.6L389.6 623.0L392.6 622.4L395.6 621.8L398.6 621.2L401.6 620.6L404.6 620.0L407.6 619.4L410.6 618.8L413.6 618.1L416.6 617.4L419.6 616.7L422.6 615.9L425.6 615.1L428.6 614.4L431.6 612.9L434.6 611.5L437.6 610.1L440.6 608.8L443.6 607.4L446.6 606.1L449.6 604.7L452.6 603.4L455.6 602.1L458.6 600.7L461.6 599.4L464.6 598.1L467.6 596.8L470.6 595.4L473.6 594.1L476.6 592.8L479.6 591.5L482.6 590.2L485.6 588.8L488.6 587.5L491.6 586.2L494.6 584.9L497.6 583.6L500.6 582.3L503.6 581.1L506.6 579.8L509.6 578.6L512.6 577.4L515.6 576.2L518.6 575.0L521.6 573.8L524.6 572.6L527.6 571.4L530.6 570.6L533.6 570.0L536.6 569.4L539.6 568.8L542.6 568.2L545.6 567.6L548.6 567.0L551.6 566.4L554.6 565.8L557.6 565.3L560.6 564.7L563.6 564.1L566.6 563.6L569.6 563.0L572.6 562.4L575.6 561.7L578.6 561.1L581.6 560.5L584.6 559.8L587.6 559.2L590.6 558.6L593.6 557.9L596.6 557.3L599.6 556.7L602.6 556.1L605.6 555.5L608.6 554.8L611.6 553.6L614.6 552.3L617.6 551.1L620.6 549.9L623.6 548.6L626.6 547.3L629.6 546.1L632.6 544.8L635.6 543.4L638.6 542.1L641.6 540.8L644.6 539.4L647.6 537.9L650.6 536.5L653.6 535.1L656.6 533.8L659.6 532.6L662.6 531.4L665.6 530.3L668.6 529.1L671.6 528.0L674.6 526.9L677.6 525.8L680.6 524.8L683.6 523.7L686.6 522.6L689.6 521.6L692.6 520.6L695.6 519.6L698.6 518.7L701.6 517.8L704.6 516.9L707.6 516.0L710.6 515.1L713.6 514.3L716.6 513.4L719.6 512.6L722.6 511.8L725.6 511.0L728.6 510.2L731.6 509.4L734.6 508.6L737.6 507.8L740.6 506.9L743.6 506.1L746.6 505.2L749.6 504.3L752.6 503.4L755.6 502.5L758.6 501.6L761.6 500.7L764.6 499.8L767.6 498.9L770.6 498.0L773.6 497.1L776.6 496.2L779.6 495.4L782.6 494.5L785.6 493.7L788.6 492.8L791.6 492.0L794.5 491.2" stroke="#000" stroke-width="1.7"/>
<path d="M493 590.4H538.7" stroke="#ff2a2a" stroke-width="0.9"/>
<path d="M493 616H538.7" stroke="#2cff2c" stroke-width="1.05" stroke-dasharray="2 4.7"/>
<path d="M493 642.4H538.7" stroke="#3a3aff" stroke-width="0.9" stroke-dasharray="12 9"/>
<path d="M493 668.4H538.7" stroke="#40fcfc" stroke-width="0.95" stroke-dasharray="30 8.6"/>
<path d="M493 693.9H538.7" stroke="#ff40ff" stroke-width="0.9" stroke-dasharray="2.7 4 12.3 4"/>
<path d="M493 720H538.7" stroke="#000" stroke-width="1.7"/>
</g>
<g transform="translate(550 595.7) scale(0.715)" fill="none" stroke="#000" stroke-width="1.091" stroke-linecap="round" stroke-linejoin="round"><use href="#g17" x="0"/><use href="#g20" x="22"/><use href="#g15" x="42"/></g>
<g transform="translate(603 595.7) scale(0.705)" fill="none" stroke="#000" stroke-width="1.106" stroke-linecap="round" stroke-linejoin="round"><use href="#g28" x="0"/><use href="#g30" x="33"/><use href="#g22" x="53"/><use href="#g23" x="74"/><use href="#g27" x="93"/></g>
<g transform="translate(689 595.7) scale(0.705)" fill="none" stroke="#000" stroke-width="1.106" stroke-linecap="round" stroke-linejoin="round"><use href="#g35" x="0"/><use href="#g26" x="24"/><use href="#g34" x="35"/><use href="#g25" x="50"/></g>
<g transform="translate(750.7 595.7) scale(0.705)" fill="none" stroke="#000" stroke-width="1.106" stroke-linecap="round" stroke-linejoin="round"><use href="#g37" x="0"/></g>
<g transform="translate(765.4 595.7) scale(0.705)" fill="none" stroke="#000" stroke-width="0.851" stroke-linecap="round" stroke-linejoin="round"><use href="#g14" x="0"/></g>
<g transform="translate(784.3 595.7) scale(0.705)" fill="none" stroke="#000" stroke-width="1.106" stroke-linecap="round" stroke-linejoin="round"><use href="#g5" x="0"/></g>
<g transform="translate(550 621.7) scale(0.715)" fill="none" stroke="#000" stroke-width="1.091" stroke-linecap="round" stroke-linejoin="round"><use href="#g17" x="0"/><use href="#g20" x="22"/><use href="#g15" x="42"/></g>
<g transform="translate(603 621.7) scale(0.705)" fill="none" stroke="#000" stroke-width="1.106" stroke-linecap="round" stroke-linejoin="round"><use href="#g28" x="0"/><use href="#g30" x="33"/><use href="#g22" x="53"/><use href="#g23" x="74"/><use href="#g27" x="93"/></g>
<g transform="translate(689 621.7) scale(0.705)" fill="none" stroke="#000" stroke-width="1.106" stroke-linecap="round" stroke-linejoin="round"><use href="#g35" x="0"/><use href="#g26" x="24"/><use href="#g34" x="35"/><use href="#g25" x="50"/></g>
<g transform="translate(750.7 621.7) scale(0.705)" fill="none" stroke="#000" stroke-width="1.106" stroke-linecap="round" stroke-linejoin="round"><use href="#g37" x="0"/></g>
<g transform="translate(765.4 621.7) scale(0.705)" fill="none" stroke="#000" stroke-width="0.851" stroke-linecap="round" stroke-linejoin="round"><use href="#g14" x="0"/></g>
<g transform="translate(784.3 621.7) scale(0.705)" fill="none" stroke="#000" stroke-width="1.106" stroke-linecap="round" stroke-linejoin="round"><use href="#g6" x="0"/></g>
<g transform="translate(550 647.7) scale(0.715)" fill="none" stroke="#000" stroke-width="1.091" stroke-linecap="round" stroke-linejoin="round"><use href="#g17" x="0"/><use href="#g20" x="22"/><use href="#g15" x="42"/></g>
<g transform="translate(603 647.7) scale(0.705)" fill="none" stroke="#000" stroke-width="1.106" stroke-linecap="round" stroke-linejoin="round"><use href="#g28" x="0"/><use href="#g30" x="33"/><use href="#g22" x="53"/><use href="#g23" x="74"/><use href="#g27" x="93"/></g>
<g transform="translate(689 647.7) scale(0.705)" fill="none" stroke="#000" stroke-width="1.106" stroke-linecap="round" stroke-linejoin="round"><use href="#g35" x="0"/><use href="#g26" x="24"/><use href="#g34" x="35"/><use href="#g25" x="50"/></g>
<g transform="translate(750.7 647.7) scale(0.705)" fill="none" stroke="#000" stroke-width="1.106" stroke-linecap="round" stroke-linejoin="round"><use href="#g37" x="0"/></g>
<g transform="translate(765.4 647.7) scale(0.705)" fill="none" stroke="#000" stroke-width="0.851" stroke-linecap="round" stroke-linejoin="round"><use href="#g14" x="0"/></g>
<g transform="translate(784.3 647.7) scale(0.705)" fill="none" stroke="#000" stroke-width="1.106" stroke-linecap="round" stroke-linejoin="round"><use href="#g7" x="0"/></g>
<g transform="translate(550 673.7) scale(0.715)" fill="none" stroke="#000" stroke-width="1.091" stroke-linecap="round" stroke-linejoin="round"><use href="#g17" x="0"/><use href="#g20" x="22"/><use href="#g15" x="42"/></g>
<g transform="translate(603 673.7) scale(0.705)" fill="none" stroke="#000" stroke-width="1.106" stroke-linecap="round" stroke-linejoin="round"><use href="#g28" x="0"/><use href="#g30" x="33"/><use href="#g22" x="53"/><use href="#g23" x="74"/><use href="#g27" x="93"/></g>
<g transform="translate(689 673.7) scale(0.705)" fill="none" stroke="#000" stroke-width="1.106" stroke-linecap="round" stroke-linejoin="round"><use href="#g35" x="0"/><use href="#g26" x="24"/><use href="#g34" x="35"/><use href="#g25" x="50"/></g>
<g transform="translate(750.7 673.7) scale(0.705)" fill="none" stroke="#000" stroke-width="1.106" stroke-linecap="round" stroke-linejoin="round"><use href="#g37" x="0"/></g>
<g transform="translate(765.4 673.7) scale(0.705)" fill="none" stroke="#000" stroke-width="0.851" stroke-linecap="round" stroke-linejoin="round"><use href="#g14" x="0"/></g>
<g transform="translate(784.3 673.7) scale(0.705)" fill="none" stroke="#000" stroke-width="1.106" stroke-linecap="round" stroke-linejoin="round"><use href="#g8" x="0"/></g>
<g transform="translate(550 699.7) scale(0.715)" fill="none" stroke="#000" stroke-width="1.091" stroke-linecap="round" stroke-linejoin="round"><use href="#g17" x="0"/><use href="#g20" x="22"/><use href="#g15" x="42"/></g>
<g transform="translate(603 699.7) scale(0.705)" fill="none" stroke="#000" stroke-width="1.106" stroke-linecap="round" stroke-linejoin="round"><use href="#g28" x="0"/><use href="#g30" x="33"/><use href="#g22" x="53"/><use href="#g23" x="74"/><use href="#g27" x="93"/></g>
<g transform="translate(689 699.7) scale(0.705)" fill="none" stroke="#000" stroke-width="1.106" stroke-linecap="round" stroke-linejoin="round"><use href="#g35" x="0"/><use href="#g26" x="24"/><use href="#g34" x="35"/><use href="#g25" x="50"/></g>
<g transform="translate(750.7 699.7) scale(0.705)" fill="none" stroke="#000" stroke-width="1.106" stroke-linecap="round" stroke-linejoin="round"><use href="#g37" x="0"/></g>
<g transform="translate(765.4 699.7) scale(0.705)" fill="none" stroke="#000" stroke-width="0.851" stroke-linecap="round" stroke-linejoin="round"><use href="#g14" x="0"/></g>
<g transform="translate(784.3 699.7) scale(0.705)" fill="none" stroke="#000" stroke-width="1.106" stroke-linecap="round" stroke-linejoin="round"><use href="#g9" x="0"/></g>
<g transform="translate(550 725.7) scale(0.715)" fill="none" stroke="#000" stroke-width="1.091" stroke-linecap="round" stroke-linejoin="round"><use href="#g18" x="0"/><use href="#g16" x="20"/><use href="#g19" x="42"/></g>
<g transform="translate(605 725.7) scale(0.716)" fill="none" stroke="#000" stroke-width="1.089" stroke-linecap="round" stroke-linejoin="round"><use href="#g31" x="0"/><use href="#g32" x="21"/><use href="#g23" x="38"/><use href="#g33" x="57"/><use href="#g21" x="74"/><use href="#g32" x="93"/><use href="#g26" x="110"/><use href="#g31" x="121"/><use href="#g34" x="142"/><use href="#g26" x="157"/><use href="#g30" x="168"/><use href="#g29" x="188"/></g>
<g transform="translate(403.2 13.3) scale(0.594)" fill="none" stroke="#000" stroke-width="1.313" stroke-linecap="round" stroke-linejoin="round"><use href="#g16" x="0"/><use href="#g23" x="22"/><use href="#g32" x="41"/><use href="#g26" x="58"/><use href="#g30" x="69"/><use href="#g22" x="89"/></g>
<g transform="translate(478.944 13.3) scale(0.594)" fill="none" stroke="#000" stroke-width="1.313" stroke-linecap="round" stroke-linejoin="round"><use href="#g2" x="0"/><use href="#g25" x="26"/><use href="#g32" x="48"/><use href="#g33" x="65"/></g>
<g transform="translate(16.2 468.2) rotate(-90) scale(0.594)" fill="none" stroke="#000" stroke-width="1.313" stroke-linecap="round" stroke-linejoin="round"><use href="#g27" x="0"/></g>
<g transform="translate(16.2 462.666) rotate(-90) scale(0.598)" fill="none" stroke="#000" stroke-width="1.304" stroke-linecap="round" stroke-linejoin="round"><use href="#g24" x="0"/><use href="#g0" x="19"/><use href="#g3" x="33"/><use href="#g22" x="59"/><use href="#g15" x="80"/><use href="#g4" x="95"/><use href="#g22" x="117"/><use href="#g34" x="138"/><use href="#g1" x="153"/></g>
<g transform="translate(72.2 84.5) rotate(-90) scale(0.6)" fill="none" stroke="#000" stroke-width="1.300" stroke-linecap="round" stroke-linejoin="round"><use href="#g8" x="0"/><use href="#g13" x="20"/></g>
<g transform="translate(72.2 214) rotate(-90) scale(0.6)" fill="none" stroke="#000" stroke-width="1.300" stroke-linecap="round" stroke-linejoin="round"><use href="#g8" x="0"/><use href="#g12" x="20"/></g>
<g transform="translate(72.2 343.5) rotate(-90) scale(0.6)" fill="none" stroke="#000" stroke-width="1.300" stroke-linecap="round" stroke-linejoin="round"><use href="#g8" x="0"/><use href="#g11" x="20"/></g>
<g transform="translate(72.2 473) rotate(-90) scale(0.6)" fill="none" stroke="#000" stroke-width="1.300" stroke-linecap="round" stroke-linejoin="round"><use href="#g8" x="0"/><use href="#g10" x="20"/></g>
<g transform="translate(72.2 602.5) rotate(-90) scale(0.6)" fill="none" stroke="#000" stroke-width="1.300" stroke-linecap="round" stroke-linejoin="round"><use href="#g8" x="0"/><use href="#g9" x="20"/></g>
<g transform="translate(72.2 732) rotate(-90) scale(0.6)" fill="none" stroke="#000" stroke-width="1.300" stroke-linecap="round" stroke-linejoin="round"><use href="#g8" x="0"/><use href="#g8" x="20"/></g>
<g style="filter:grayscale(1)" >
<text transform="translate(221.6 59.6) scale(1 1.045)" font-size="20.3" text-anchor="middle">2</text>
<text transform="translate(468.3 59.6) scale(1 1.045)" font-size="20.3" text-anchor="middle">4</text>
<text transform="translate(714.9 59.6) scale(1 1.045)" font-size="20.3" text-anchor="middle">6</text>
<text transform="translate(189.2 793.6) scale(1 1.045)" font-size="20.3" text-anchor="middle">0.2</text>
<text transform="translate(339.6 793.6) scale(1 1.045)" font-size="20.3" text-anchor="middle">0.4</text>
<text transform="translate(490.3 793.6) scale(1 1.045)" font-size="20.3" text-anchor="middle">0.6</text>
<text transform="translate(640.8 793.6) scale(1 1.045)" font-size="20.3" text-anchor="middle">0.8</text>
<text transform="translate(437.2 824.0) scale(1 1.045)" font-size="20.3" text-anchor="middle">Mass of the secondary</text>
<path transform="translate(788.5 793.5) scale(0.02030 -0.02121)" d="M359 0H271V508H102V568C170 572 230 590 262 640C278 665 288 690 295 709H359Z" fill="#000"/>
</g>
</svg></body></html>
